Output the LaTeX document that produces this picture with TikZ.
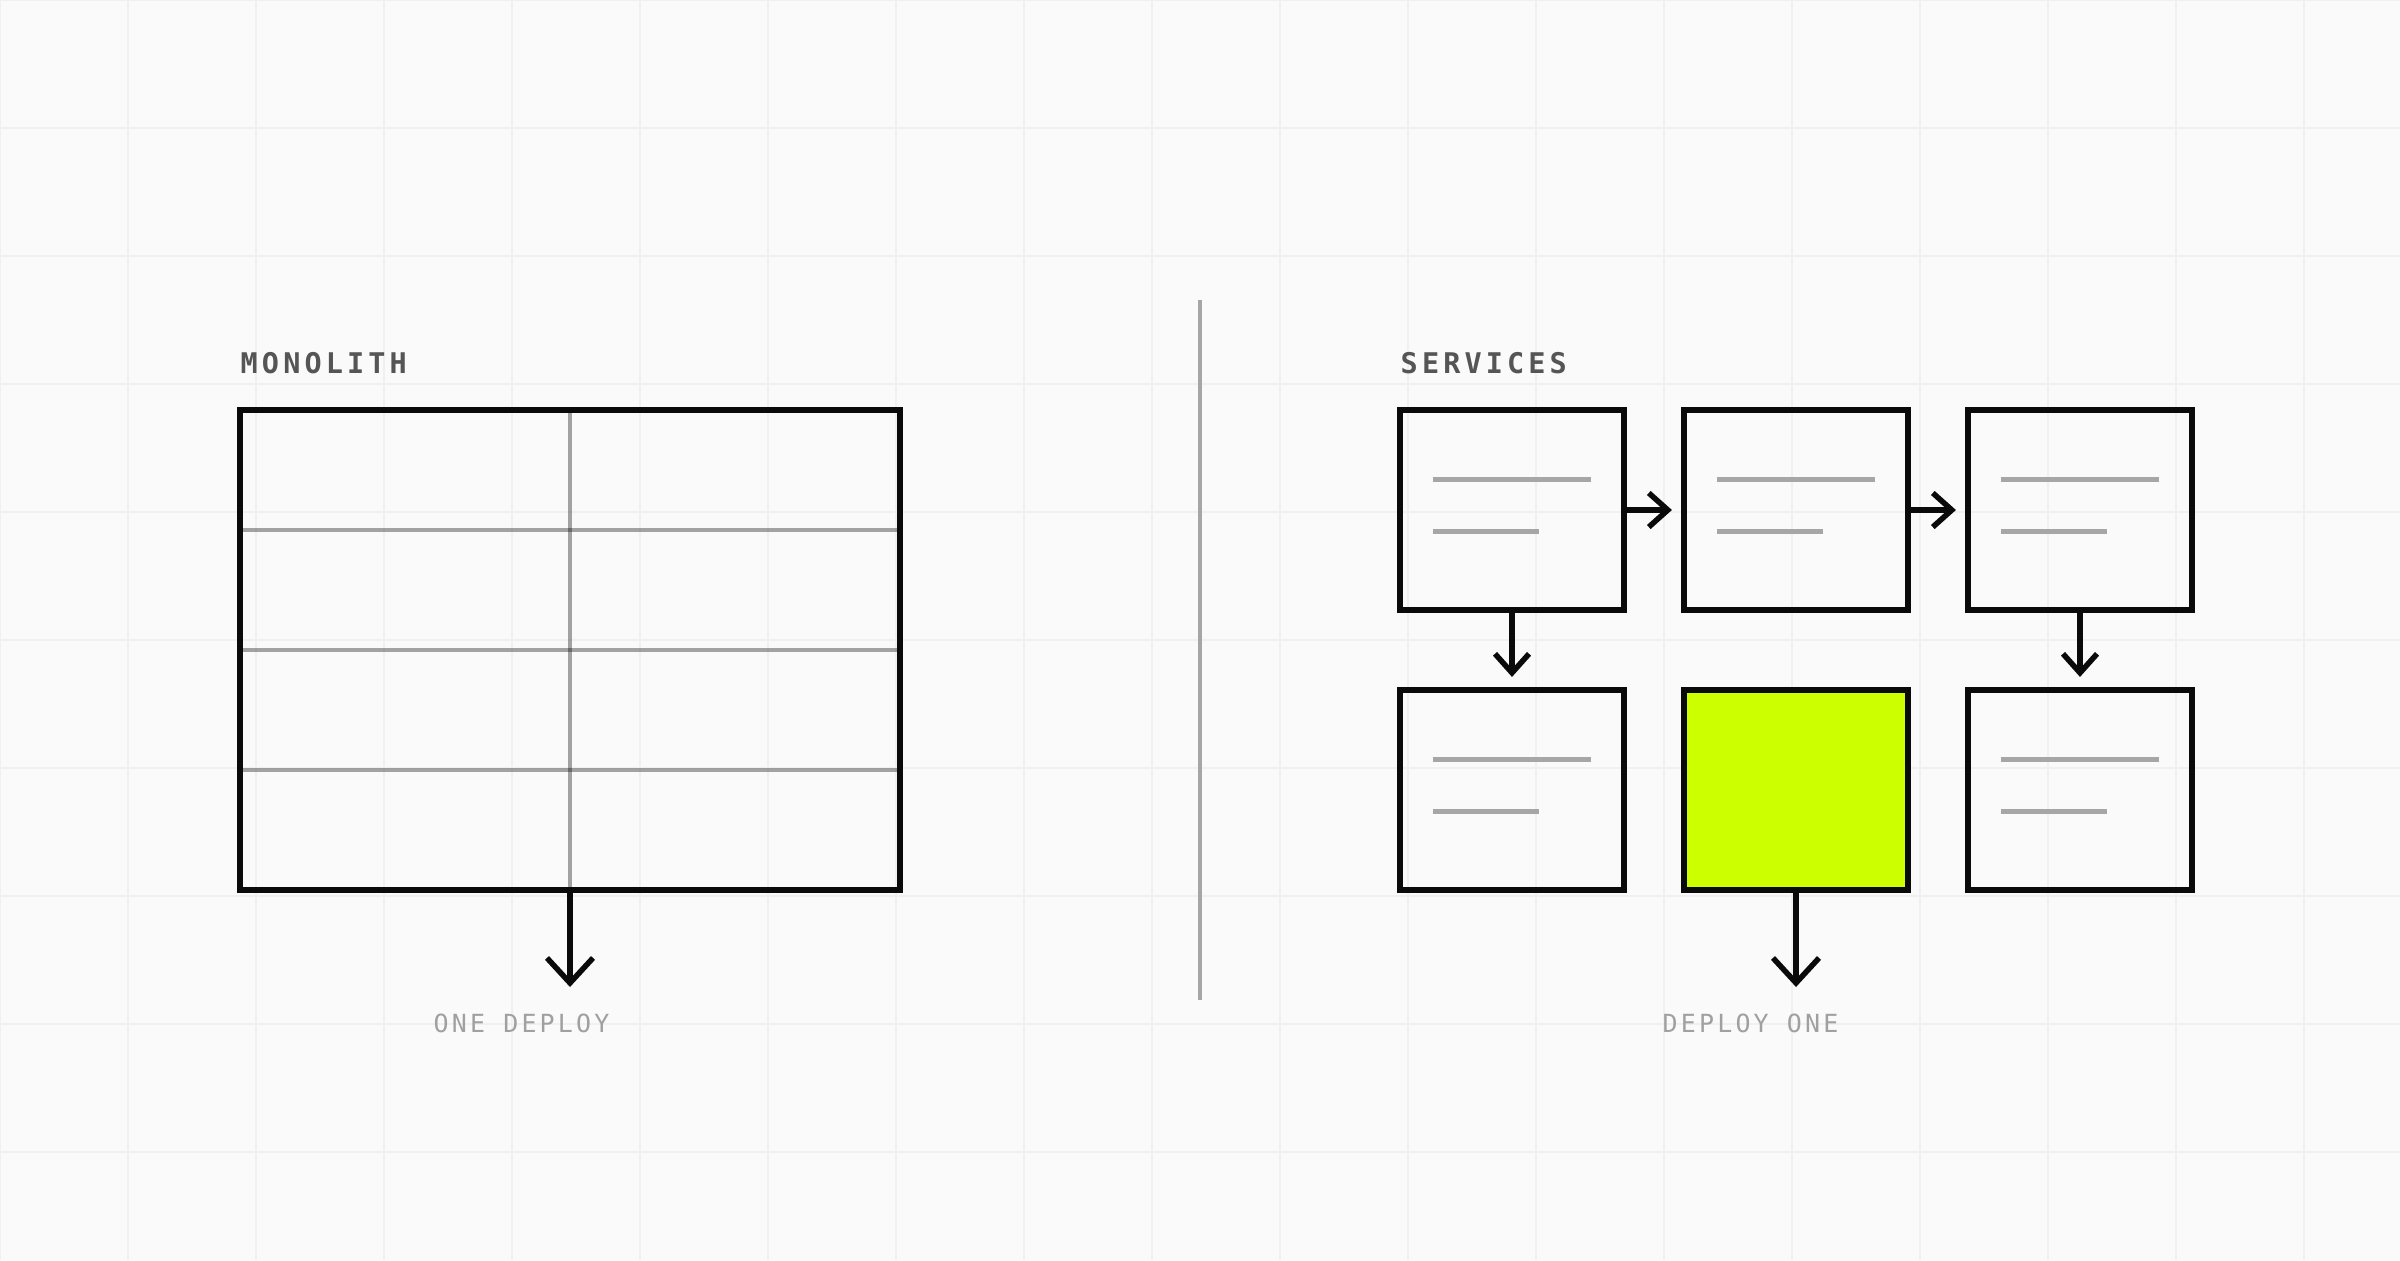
\documentclass[tikz,border=0pt]{standalone}
\usepackage{fontspec}
\setmonofont{DejaVu Sans Mono}
\newfontfamily\headfont[LetterSpace=14.5]{DejaVu Sans Mono Bold}
\newfontfamily\footfont[LetterSpace=12.7]{DejaVu Sans Mono}
\usetikzlibrary{arrows.meta,positioning,calc}

\definecolor{bgpaper}{HTML}{FAFAFA}
\definecolor{gridcol}{HTML}{F0F0F0}
\definecolor{ink}{HTML}{0A0A0A}
\definecolor{headgray}{HTML}{555555}
\definecolor{footgray}{HTML}{A0A0A0}
\definecolor{rulegray}{HTML}{A6A6A6}
\definecolor{lime}{HTML}{CCFF00}

\tikzset{
  svcbox/.style={draw=ink, line width=0.055cm, minimum width=2.24cm, minimum height=2cm, inner sep=0pt, outer sep=0pt},
  monobox/.style={draw=ink, line width=0.055cm, minimum width=6.6cm, minimum height=4.8cm, inner sep=0pt, outer sep=0pt},
  cellline/.style={draw=black, draw opacity=0.35, line width=0.045cm},
  textline/.style={draw=rulegray, line width=0.05cm},
  flow/.style={draw=ink, line width=0.055cm, -{Straight Barb[length=0.19cm, width=0.34cm]}},
  deploy/.style={draw=ink, line width=0.055cm, -{Straight Barb[length=0.25cm, width=0.46cm]}},
  sectlabel/.style={inner sep=0pt, anchor=base west, text=headgray, font=\headfont\fontsize{8.1pt}{8.1pt}\selectfont},
  deploylabel/.style={inner sep=0pt, anchor=base west, text=footgray, font=\footfont\fontsize{7.1pt}{7.1pt}\selectfont},
}

\begin{document}
\begin{tikzpicture}[x=0.01cm, y=-0.01cm]

  % Paper and faint grid
  \useasboundingbox (0,0) rectangle (2400,1260);
  \fill[bgpaper] (0,0) rectangle (2400,1260);
  \foreach \gx in {0,128,...,2304}
    \draw[gridcol, line width=0.02cm] (\gx,0) -- (\gx,1260);
  \foreach \gy in {0,128,...,1152}
    \draw[gridcol, line width=0.02cm] (0,\gy) -- (2400,\gy);

  % Monolith: one big block cut into cells
  \foreach \r in {530,650,770}
    \draw[cellline] (240,\r) -- (900,\r);
  \draw[cellline] (570,410) -- (570,890);
  \node[monobox] (mono) at (570,650) {};
  \node[sectlabel] (monotitle) at (240,373) {MONOLITH};

  % Deploy arrow of the monolith
  \coordinate (monoout) at (570,987);
  \draw[deploy] (mono.south) -- (monoout);
  \node[deploylabel] (monocap) at (433,1032) {ONE DEPLOY};

  % Divider
  \coordinate (divtop) at (1200,300);
  \coordinate (divbot) at (1200,1000);
  \draw[rulegray, line width=0.035cm] (divtop) -- (divbot);

  % Services
  \node[sectlabel] (svctitle) at (1400,373) {SERVICES};
  \node[svcbox] (s1) at (1512,510) {};
  \node[svcbox] (s2) at (1796,510) {};
  \node[svcbox] (s3) at (2080,510) {};
  \node[svcbox] (s4) at (1512,790) {};
  \node[svcbox, fill=lime] (s5) at (1796,790) {};
  \node[svcbox] (s6) at (2080,790) {};

  % Text lines inside the service boxes
  \foreach \b in {s1,s2,s3,s4,s6} {
    \draw[textline] ($(\b.north west)+(33,70)$) -- ++(158,0);
    \draw[textline] ($(\b.north west)+(33,122)$) -- ++(106,0);
  }

  % Calls between services
  \draw[flow, shorten >=0.12cm] (s1.east) -- (s2.west);
  \draw[flow, shorten >=0.12cm] (s2.east) -- (s3.west);
  \draw[flow, shorten >=0.13cm] (s1.south) -- (s4.north);
  \draw[flow, shorten >=0.13cm] (s3.south) -- (s6.north);

  % Deploy arrow of one service
  \coordinate (svcout) at (1796,987);
  \draw[deploy] (s5.south) -- (svcout);
  \node[deploylabel] (svccap) at (1662,1032) {DEPLOY ONE};

\end{tikzpicture}
\end{document}
